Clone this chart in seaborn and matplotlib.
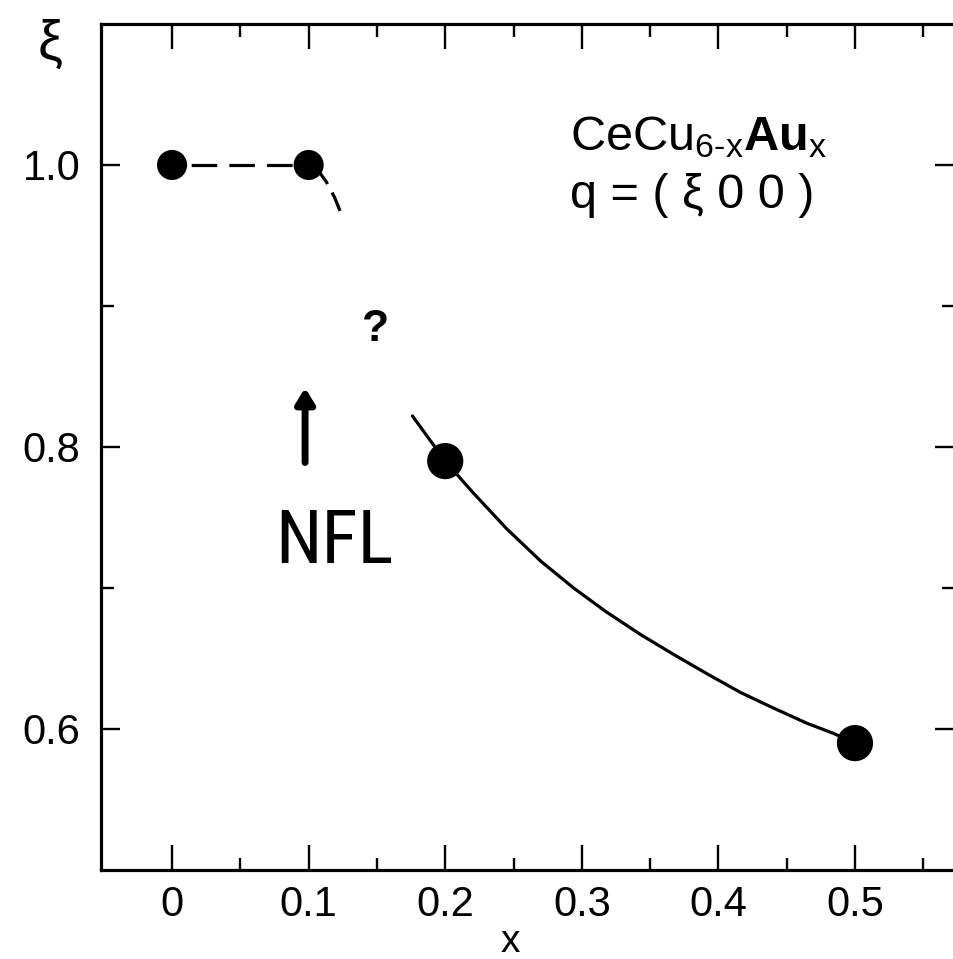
import matplotlib
matplotlib.use("Agg")
import matplotlib.pyplot as plt
from matplotlib.ticker import FixedLocator
import seaborn as sns
import pandas as pd

# Measured ordering wave-vector component xi versus Au content x
x_points = [0.0, 0.1, 0.2, 0.5]
xi_points = [1.0, 1.0, 0.79, 0.59]
point_size = ["small", "small", "large", "large"]

# Dashed guide: flat part at xi = 1 and its short downturn after x = 0.1
x_flat = [0.0, 0.1]
xi_flat = [1.0, 1.0]
x_turn = [0.1, 0.107, 0.113, 0.119, 0.124]
xi_turn = [1.0, 0.996, 0.988, 0.977, 0.965]

# Solid guide through the two larger-x points
x_guide = [0.176, 0.2, 0.22, 0.245, 0.27, 0.294, 0.318, 0.343, 0.367,
           0.392, 0.416, 0.44, 0.465, 0.484, 0.5]
xi_guide = [0.822, 0.79, 0.768, 0.742, 0.719, 0.700, 0.683, 0.667, 0.653,
            0.639, 0.626, 0.615, 0.604, 0.597, 0.59]

x_ticks = [0.0, 0.1, 0.2, 0.3, 0.4, 0.5]
x_ticklabels = ["0", "0.1", "0.2", "0.3", "0.4", "0.5"]
y_ticks = [0.6, 0.8, 1.0]
y_ticklabels = ["0.6", "0.8", "1.0"]

sns.set_style("white")
plt.rcParams["font.family"] = ["Liberation Sans", "DejaVu Sans"]
plt.rcParams["mathtext.fontset"] = "custom"
plt.rcParams["mathtext.rm"] = "Liberation Sans"
plt.rcParams["mathtext.it"] = "Liberation Sans:italic"
plt.rcParams["mathtext.bf"] = "Liberation Sans:bold"
for key in ["text.color", "axes.labelcolor", "xtick.color", "ytick.color",
            "axes.edgecolor"]:
    plt.rcParams[key] = "black"

fig = plt.figure(figsize=(9.54, 9.59), dpi=100)
ax = fig.add_axes([0.1059, 0.0928, 1.0 - 0.1059, 0.975 - 0.0928])

pts = pd.DataFrame({"x": x_points, "xi": xi_points, "kind": point_size})
flat = pd.DataFrame({"x": x_flat, "xi": xi_flat})
turn = pd.DataFrame({"x": x_turn, "xi": xi_turn})
guide = pd.DataFrame({"x": x_guide, "xi": xi_guide})

lw = 2.3
sns.lineplot(data=flat, x="x", y="xi", ax=ax, color="black", lw=lw,
             estimator=None, sort=False, linestyle=(5.8, (8.0, 3.8)))
sns.lineplot(data=turn, x="x", y="xi", ax=ax, color="black", lw=lw,
             estimator=None, sort=False, linestyle=(0, (8.6, 3.0, 6.3, 30)))
sns.lineplot(data=guide, x="x", y="xi", ax=ax, color="black", lw=lw,
             estimator=None, sort=False, solid_joinstyle="round")
sns.scatterplot(data=pts, x="x", y="xi", size="kind",
                sizes={"small": 470, "large": 680}, color="black",
                edgecolor="black", linewidth=0, ax=ax, legend=False, zorder=5)

ax.set_xlim(-0.052, 0.5725)
ax.set_ylim(0.5, 1.1)

for s in ax.spines.values():
    s.set_visible(True)
    s.set_linewidth(lw)
    s.set_color("black")
# the frame is open on the right; only its ticks show at the edge
ax.spines["right"].set_visible(False)

ax.xaxis.set_major_locator(FixedLocator(x_ticks))
ax.set_xticklabels(x_ticklabels)
ax.xaxis.set_minor_locator(FixedLocator([0.05, 0.15, 0.25, 0.35, 0.45, 0.55]))
ax.yaxis.set_major_locator(FixedLocator(y_ticks))
ax.set_yticklabels(y_ticklabels)
ax.yaxis.set_minor_locator(FixedLocator([0.7, 0.9]))

ax.tick_params(which="both", direction="in", top=True, right=True,
               bottom=True, left=True, color="black", width=1.7)
ax.tick_params(which="major", length=18)
ax.tick_params(which="minor", length=9)
ax.tick_params(axis="y", which="major", right=True, length=14)
ax.tick_params(axis="x", which="major", labelsize=30, pad=11)
ax.tick_params(axis="y", which="major", labelsize=30, pad=15)

ax.set_xlabel("x", fontsize=28, va="baseline")
ax.xaxis.set_label_coords(0.48, -0.097)
ax.set_ylabel("ξ", fontsize=40, rotation=0, ha="center", va="center")
ax.yaxis.set_label_coords(-0.06, 0.975)

ax.text(0.55, 0.851, r"CeCu$_{\mathrm{6\text{-}x}}\mathbf{Au}_{\mathrm{x}}$",
        transform=ax.transAxes, fontsize=35, ha="left", va="baseline")
ax.text(0.55, 0.7825, "q = ( ξ 0 0 )", transform=ax.transAxes,
        fontsize=35, ha="left", va="baseline")

ax.text(0.149, 0.875, "?", fontsize=32, fontweight="bold",
        ha="center", va="baseline")
ax.text(0.0754, 0.718, "NFL", fontsize=54, fontstretch="condensed",
        family=["Roboto Condensed", "Liberation Sans Narrow",
                "DejaVu Sans Condensed", "Liberation Sans"],
        ha="left", va="baseline")
ax.annotate("", xy=(0.0974, 0.842), xytext=(0.0974, 0.789),
            arrowprops=dict(arrowstyle="-|>,head_length=0.9,head_width=0.55",
                            color="black", lw=5, shrinkA=0, shrinkB=0))

fig.savefig("out.png", dpi=100)
